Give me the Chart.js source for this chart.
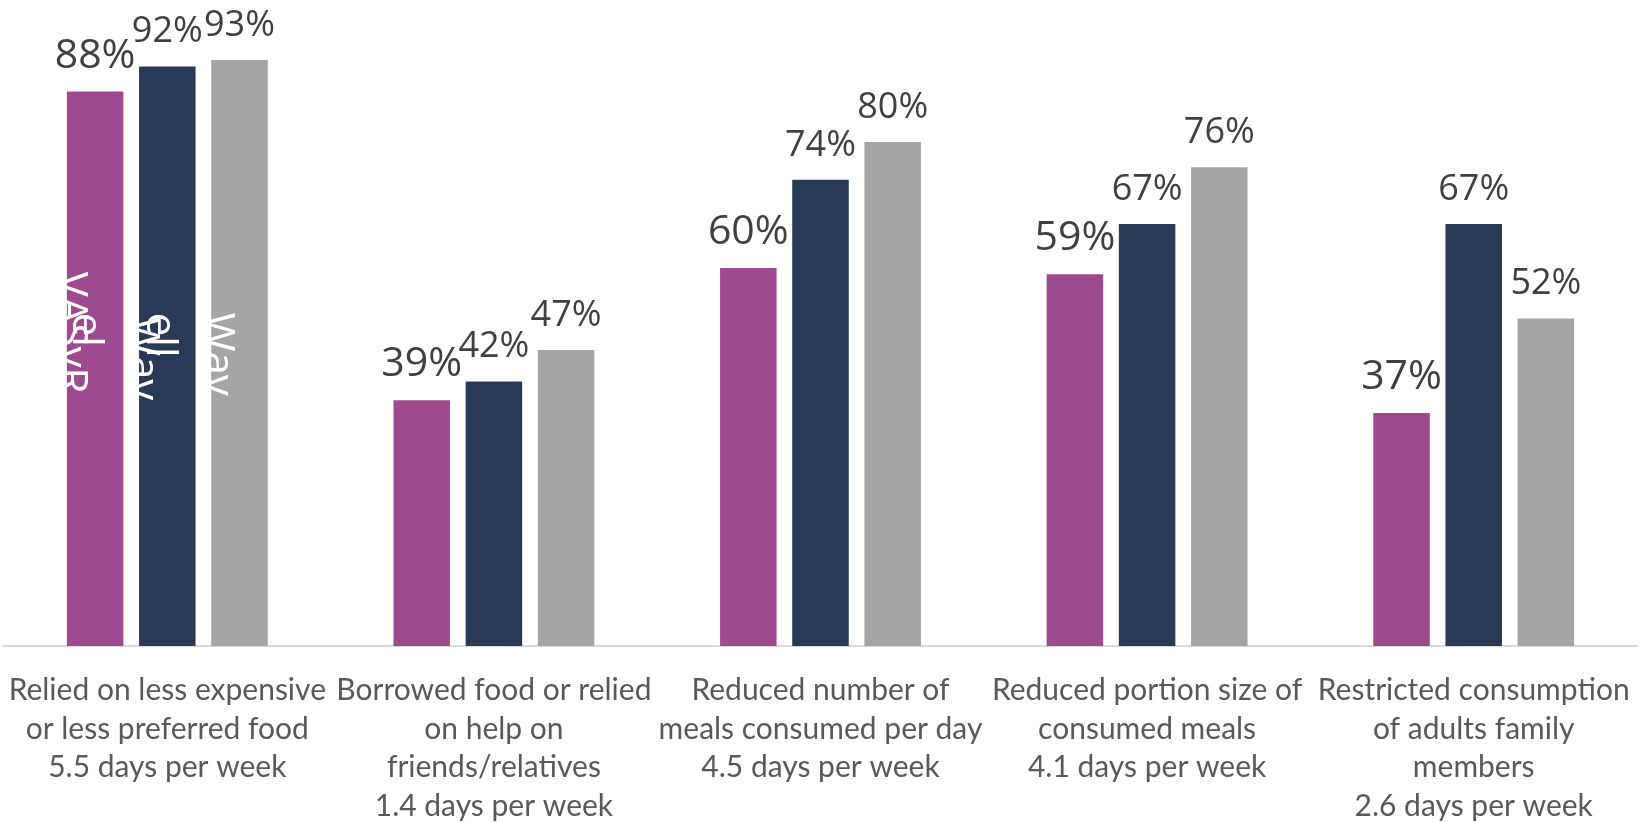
<!DOCTYPE html>
<html>
<head>
<meta charset="utf-8">
<script src="https://cdn.jsdelivr.net/npm/chart.js@4.4.1/dist/chart.umd.min.js"></script>
<style>
  html, body { margin: 0; padding: 0; background: #fff; }
  canvas { display: block; }
</style>
</head>
<body>
<canvas id="myChart" width="1641" height="822"></canvas>
<script>
const categories = [
    ['Relied on less expensive', 'or less preferred food', '5.5 days per week'],
    ['Borrowed food or relied', 'on help on', 'friends/relatives', '1.4 days per week'],
    ['Reduced number of', 'meals consumed per day', '4.5 days per week'],
    ['Reduced portion size of', 'consumed meals', '4.1 days per week'],
    ['Restricted consumption', 'of adults family', 'members', '2.6 days per week']
];
const seriesA = [88, 39, 60, 59, 37];
const seriesB = [92, 42, 74, 67, 67];
const seriesC = [93, 47, 80, 76, 52];
// garbled rotated series names sitting inside the first group of bars
const innerTexts = [['VASyR', 'el'], ['Wav', 'ell'], ['Wav']];

const colors = ['#9E4A91', '#283A56', '#A5A5A5'];
const labelSizes = [41, 36, 36];

// offsets of the rotated words from each bar's left edge, and where they start (axis value)
const innerDx = [[-9, 6], [-9, 8], [-6]];
const innerStart = [[59.4, 52.9], [52.2, 52.9], [52.9]];

const valueLabels = {
    id: 'valueLabels',
    afterDatasetsDraw(chart) {
        const ctx = chart.ctx;
        const y = chart.scales.y;
        ctx.save();
        ctx.fillStyle = '#404040';
        ctx.textAlign = 'center';
        ctx.textBaseline = 'alphabetic';
        chart.data.datasets.forEach((ds, i) => {
            ctx.font = labelSizes[i] + 'px "Open Sans"';
            chart.getDatasetMeta(i).data.forEach((bar, j) => {
                ctx.fillText(ds.data[j] + '%', bar.x, bar.y - 24);
            });
        });
        // white rotated text in the first category
        ctx.fillStyle = '#ffffff';
        ctx.font = '42px "Open Sans"';
        ctx.textAlign = 'left';
        innerTexts.forEach((words, i) => {
            const bar = chart.getDatasetMeta(i).data[0];
            const left = bar.x - bar.width / 2;
            words.forEach((w, k) => {
                ctx.save();
                ctx.translate(left + innerDx[i][k], y.getPixelForValue(innerStart[i][k]));
                ctx.rotate(Math.PI / 2);
                ctx.fillText(w, 0, 0);
                ctx.restore();
            });
        });
        ctx.restore();
    }
};

const ctx = document.getElementById('myChart').getContext('2d');

const myBarChart = new Chart(ctx, {
    type: 'bar',
    data: {
        labels: categories,
        datasets: [
            { label: 'VASyR', data: seriesA, backgroundColor: colors[0] },
            { label: 'Wave 1', data: seriesB, backgroundColor: colors[1] },
            { label: 'Wave 2', data: seriesC, backgroundColor: colors[2] }
        ]
    },
    options: {
        responsive: false,
        maintainAspectRatio: false,
        animation: false,
        layout: {
            padding: {top: 16, left: 4, right: 4, bottom: 0}
        },
        datasets: {
            bar: {
                categoryPercentage: 0.663,
                barPercentage: 0.783
            }
        },
        scales: {
            x: {
                grid: { display: false },
                border: { display: true, color: '#D9D9D9', width: 2 },
                ticks: {
                    color: '#595959',
                    font: { family: 'Lato', size: 30, lineHeight: 1.29 },
                    padding: 17,
                    maxRotation: 0,
                    autoSkip: false
                },
                afterFit(scale) {
                    scale.height = 176;
                    scale.paddingLeft = 0;
                    scale.paddingRight = 0;
                }
            },
            y: {
                display: false,
                min: 0,
                max: 100
            }
        },
        plugins: {
            legend: { display: false },
            tooltip: { enabled: false }
        }
    },
    plugins: [valueLabels]
});
</script>
</body>
</html>
